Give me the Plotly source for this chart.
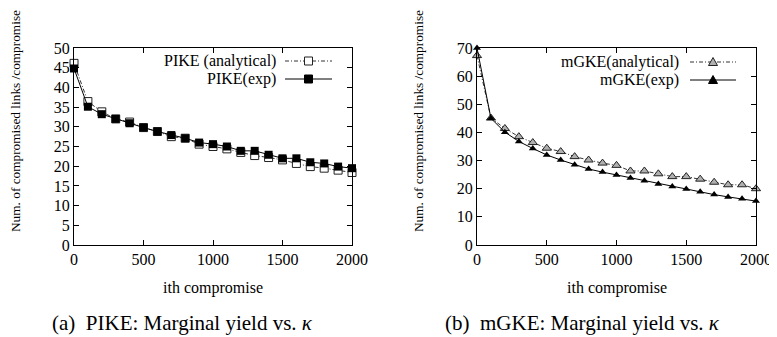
import plotly.graph_objects as go

# ---- data ----
x_vals = [0, 100, 200, 300, 400, 500, 600, 700, 800, 900, 1000,
          1100, 1200, 1300, 1400, 1500, 1600, 1700, 1800, 1900, 2000]

pike_analytical = [46.1, 36.4, 33.8, 32.0, 31.2, 29.8, 28.8, 27.5, 27.1, 25.6, 25.0,
                   24.4, 23.5, 22.7, 22.2, 21.6, 20.7, 19.9, 19.5, 19.0, 18.4]
pike_exp = [44.8, 35.1, 33.2, 32.0, 30.9, 29.8, 28.8, 27.9, 27.1, 26.0, 25.6,
            25.0, 23.9, 23.9, 22.9, 22.0, 22.0, 21.0, 20.7, 19.9, 19.5]

mgke_analytical = [67.3, 45.1, 41.4, 38.5, 36.4, 34.4, 33.2, 31.4, 30.2, 29.1, 28.3,
                   26.3, 26.3, 25.3, 24.3, 24.3, 23.4, 22.3, 21.4, 21.4, 20.0]
mgke_exp = [70.0, 45.0, 40.1, 36.8, 34.3, 32.0, 30.2, 28.5, 27.0, 25.9, 24.9,
            23.8, 22.8, 21.7, 20.8, 19.9, 18.9, 17.9, 17.1, 16.4, 15.6]

x_ticks = [0, 500, 1000, 1500, 2000]
y_ticks_left = [0, 5, 10, 15, 20, 25, 30, 35, 40, 45, 50]
y_ticks_right = [0, 10, 20, 30, 40, 50, 60, 70]

legend_labels = ["PIKE (analytical)", "PIKE(exp)", "mGKE(analytical)", "mGKE(exp)"]
y_title = "Num. of compromised links /compromise"
x_title = "ith compromise"
captions = ["(a)  PIKE: Marginal yield vs. <i>κ</i>", "(b)  mGKE: Marginal yield vs. <i>κ</i>"]

# ---- layout helpers ----
# page body has an 8px margin, so the figure is drawn 8px right/down
OFF = 8
W, H = 777 - OFF, 337 - OFF
FONT = "Times New Roman, Liberation Serif, DejaVu Serif, serif"


def px(x):
    return (x - OFF) / W


def py(y):
    return 1 - (y - OFF) / H


DASH = "4px,2px,1px,2px"

fig = go.Figure()

fig.add_trace(go.Scatter(
    x=x_vals, y=pike_analytical, mode="lines+markers", xaxis="x", yaxis="y",
    line=dict(color="#333333", width=1, dash=DASH),
    marker=dict(symbol="square", size=8, color="white", line=dict(color="#222222", width=1)),
    cliponaxis=False, showlegend=False))
fig.add_trace(go.Scatter(
    x=x_vals, y=pike_exp, mode="lines+markers", xaxis="x", yaxis="y",
    line=dict(color="black", width=1),
    marker=dict(symbol="square", size=8, color="black"),
    cliponaxis=False, showlegend=False))
fig.add_trace(go.Scatter(
    x=x_vals, y=mgke_analytical, mode="lines+markers", xaxis="x2", yaxis="y2",
    line=dict(color="#333333", width=1, dash=DASH),
    marker=dict(symbol="triangle-up", size=8, color="#b0b0b0", line=dict(color="#222222", width=1)),
    cliponaxis=False, showlegend=False))
fig.add_trace(go.Scatter(
    x=x_vals, y=mgke_exp, mode="lines+markers", xaxis="x2", yaxis="y2",
    line=dict(color="black", width=1),
    marker=dict(symbol="triangle-up", size=7, color="black"),
    cliponaxis=False, showlegend=False))

tickfont = dict(family=FONT, size=16, color="black")
common_axis = dict(showline=True, linecolor="black", linewidth=1, mirror="ticks",
                   ticks="inside", ticklen=5, tickcolor="black", showgrid=False,
                   zeroline=False, tickfont=tickfont, automargin=False)

fig.update_layout(
    width=W, height=H, margin=dict(l=0, r=0, t=0, b=0, autoexpand=False),
    paper_bgcolor="white", plot_bgcolor="white",
    font=dict(family=FONT, color="black"),
    xaxis=dict(domain=[px(74), px(352)], range=[0, 2000], tickvals=x_ticks, anchor="y", **common_axis),
    yaxis=dict(domain=[py(245), py(48)], range=[0, 50], tickvals=y_ticks_left, anchor="x", **common_axis),
    xaxis2=dict(domain=[px(477), px(756)], range=[0, 2000], tickvals=x_ticks, anchor="y2", **common_axis),
    yaxis2=dict(domain=[py(245), py(48)], range=[0, 70], tickvals=y_ticks_right, anchor="x2", **common_axis),
)

ann = []
# y titles
for xc in (15, 418):
    ann.append(dict(text=y_title, x=px(xc), y=py(121), xref="paper", yref="paper",
                    textangle=-90, showarrow=False, xanchor="center", yanchor="middle",
                    font=dict(family=FONT, size=13.3, color="black")))
# x titles
for xc in (213, 617):
    ann.append(dict(text=x_title, x=px(xc), y=py(288), xref="paper", yref="paper",
                    showarrow=False, xanchor="center", yanchor="middle",
                    font=dict(family=FONT, size=16, color="black")))
# captions
for xc, cap in zip((182, 582), captions):
    ann.append(dict(text=cap, x=px(xc), y=py(323), xref="paper", yref="paper",
                    showarrow=False, xanchor="center", yanchor="middle",
                    font=dict(family=FONT, size=21, color="black")))

# legend (gnuplot-style: text right-aligned, sample on the right)
leg = [
    (legend_labels[0], 278, 61, 285, 332, "dash", "sq_open"),
    (legend_labels[1], 278, 79, 285, 332, "solid", "sq_fill"),
    (legend_labels[2], 681, 62, 690, 736, "dash", "tri_open"),
    (legend_labels[3], 681, 80, 690, 736, "solid", "tri_fill"),
]
shapes = []
for text, tx, ty, lx0, lx1, ls, mk in leg:
    ann.append(dict(text=text, x=px(tx), y=py(ty), xref="paper", yref="paper",
                    showarrow=False, xanchor="right", yanchor="middle",
                    font=dict(family=FONT, size=16, color="black")))
    shapes.append(dict(type="line", xref="paper", yref="paper",
                       x0=px(lx0), x1=px(lx1), y0=py(ty), y1=py(ty),
                       line=dict(color="#333333" if ls == "dash" else "black", width=1,
                                 dash=DASH if ls == "dash" else "solid")))
    cx = (lx0 + lx1) / 2
    if mk.startswith("sq"):
        shapes.append(dict(type="rect", xref="paper", yref="paper",
                           x0=px(cx - 4), x1=px(cx + 4), y0=py(ty + 4), y1=py(ty - 4),
                           fillcolor="white" if mk == "sq_open" else "black",
                           line=dict(color="#222222" if mk == "sq_open" else "black", width=1)))
    else:
        path = "M {} {} L {} {} L {} {} Z".format(px(cx - 4.5), py(ty + 3.5), px(cx + 4.5), py(ty + 3.5),
                                                  px(cx), py(ty - 4.5))
        shapes.append(dict(type="path", xref="paper", yref="paper", path=path,
                           fillcolor="#b0b0b0" if mk == "tri_open" else "black",
                           line=dict(color="#222222" if mk == "tri_open" else "black", width=1)))

fig.update_layout(annotations=ann, shapes=shapes)
fig.write_html("out.html")
